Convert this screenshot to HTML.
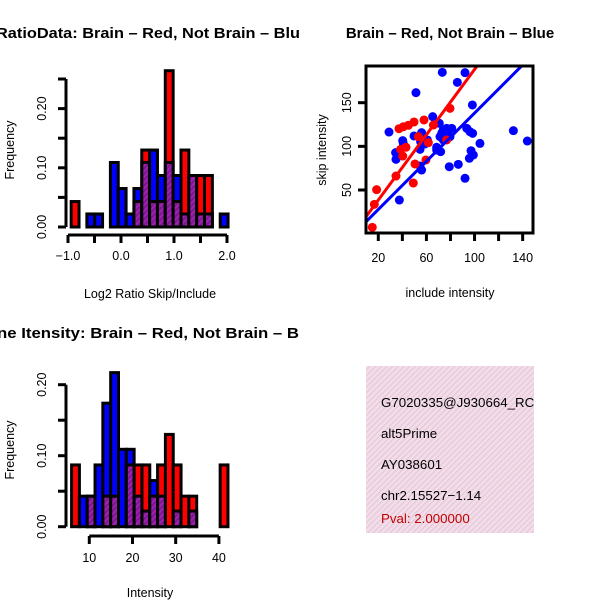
<!DOCTYPE html>
<html><head><meta charset="utf-8"><style>
html,body{margin:0;padding:0;background:#fff;}
svg{display:block;font-family:"Liberation Sans",sans-serif;}
</style></head><body>
<svg id="s" width="600" height="600" viewBox="0 0 600 600">
<defs>
<pattern id="purp" width="4" height="4" patternUnits="userSpaceOnUse" patternTransform="rotate(45)">
<rect width="4" height="4" fill="#a020b0"/><rect width="2" height="4" fill="#7a1890"/></pattern>
<pattern id="pink" width="4" height="4" patternUnits="userSpaceOnUse" patternTransform="rotate(45)">
<rect width="4" height="4" fill="#f8daf0"/><rect width="1.3" height="4" fill="#dcd0cc"/></pattern>
<clipPath id="scClip"><rect x="366" y="66" width="167" height="167"/></clipPath>
</defs>
<text x="-4" y="38" font-size="15" font-weight="bold" textLength="304" lengthAdjust="spacingAndGlyphs">RatioData: Brain – Red, Not Brain – Blu</text>
<text x="-3" y="338" font-size="15" font-weight="bold" textLength="302" lengthAdjust="spacingAndGlyphs">ne Itensity: Brain – Red, Not Brain – B</text>
<text x="450" y="38" font-size="15" font-weight="bold" text-anchor="middle">Brain – Red, Not Brain – Blue</text>
<g id="h1"></g>
<g id="h2"></g>
<g id="sc"></g>
<g>
<rect x="366" y="366" width="168" height="167" fill="url(#pink)"/>
<svg x="366" y="366" width="168" height="167" overflow="hidden">
<text x="15" y="41" font-size="13.3">G7020335@J930664_RC</text>
<text x="15" y="72" font-size="13.3">alt5Prime</text>
<text x="15" y="103" font-size="13.3">AY038601</text>
<text x="15" y="134" font-size="13.3">chr2.15527−1.14</text>
<text x="15" y="157" font-size="13.3" fill="#c00000">Pval: 2.000000</text>
</svg></g>
</svg>
<script>
const NS="http://www.w3.org/2000/svg";
// ratio histogram data
const ratioBinStart=-0.94, ratioBinWidth=0.148;
const ratioRed=[0.043,0,0,0,0,0,0,0,0.043,0.13,0.043,0.043,0.264,0.043,0.13,0.087,0.087,0.087,0,0];
const ratioBlue=[0,0,0.022,0.022,0,0.109,0.065,0.022,0.065,0.109,0.13,0.087,0.109,0.087,0.022,0.087,0.022,0.022,0,0.022];
const ratioXTicks=[-1.0,-0.5,0,0.5,1.0,1.5,2.0];
const ratioXLabels=["−1.0","0.0","1.0","2.0"];
const ratioYTicks=[0,0.05,0.10,0.15,0.20,0.25];
const ratioYLabels=["0.00","0.10","0.20"];
// intensity histogram data
const intBinStart=5.9, intBinWidth=1.81;
const intRed=[0.087,0,0.043,0,0.043,0.043,0,0.087,0.087,0.087,0.043,0.087,0.13,0.087,0.043,0.043,0,0,0,0.087];
const intBlue=[0,0.043,0.043,0.087,0.174,0.217,0.109,0.109,0.043,0.022,0.065,0.043,0,0.022,0,0.022,0,0,0,0];
const intXTicks=[10,20,30,40];
const intYTicks=[0,0.05,0.10,0.15,0.20];
const intYLabels=["0.00","0.10","0.20"];
// scatter data
const blueX=[73.2,92.1,85.7,51.3,98.2,65.2,28.9,40.3,40.8,34.4,34.7,49.7,56.0,55.2,58.8,54.7,60.8,70.7,74.0,76.8,81.0,71.3,74.0,79.6,68.5,71.8,93.5,96.2,98.4,104.5,132.3,143.9,97.1,99.0,95.7,86.5,79.0,56.0,54.7,92.1,37.5,68.5,76.8,72.7];
const blueY=[184.8,184.4,173.3,161.5,147.4,134.0,116.4,106.5,103.4,92.8,85.1,111.9,115.7,105.4,102.7,96.6,107.3,126.4,118.7,120.6,120.6,111.1,107.3,111.1,95.8,93.9,120.6,116.8,114.9,103.4,118.0,106.1,95.0,90.1,86.3,79.4,76.7,72.9,77.5,63.4,38.5,98.9,116.8,114.9];
const redX=[15.0,16.7,18.6,34.7,49.1,40.3,38.6,43.0,37.2,40.8,45.0,49.7,58.0,65.8,79.6,61.6,50.5,59.6,76.8,53.3];
const redY=[7.2,33.6,50.4,66.0,58.0,88.9,96.6,98.9,120.2,122.5,124.1,127.9,130.2,124.4,143.5,104.2,79.8,84.4,107.3,111.1];
const redFit=[1.1,1.87];   // intercept, slope
const blueFit=[0.2,1.379];
const scXTicks=[20,40,60,80,100,120,140];
const scXLabels=[20,60,100,140];
const scYTicks=[50,100,150];

function mk(tag,attrs,parent){const e=document.createElementNS(NS,tag);for(const k in attrs)e.setAttribute(k,attrs[k]);parent.appendChild(e);return e;}

function hist(g,red,blue,start,w,sx,sy,y0,name){
  for(let i=0;i<red.length;i++){
    const r=red[i],b=blue[i];const mx=Math.max(r,b),mn=Math.min(r,b);
    if(mx<=0)continue;
    const x0=sx(start+i*w),x1=sx(start+(i+1)*w);
    const col=r===b?"url(#purp)":(r>b?"#ff0000":"#0000ff");
    const e=mk("rect",{x:x0,y:sy(mx),width:x1-x0,height:y0-sy(mx),fill:col,stroke:"#000","stroke-width":3},g);
    
    
    if(mn>0){
      const p=mk("rect",{x:x0,y:sy(mn),width:x1-x0,height:y0-sy(mn),fill:"url(#purp)",stroke:"#000","stroke-width":3},g);
      
      
    }
  }
}
function yaxis(g,ticks,labels,sy,x,name,labelX,labelY){
  mk("line",{x1:x,x2:x,y1:sy(ticks[0]),y2:sy(ticks[ticks.length-1]),stroke:"#000","stroke-width":3},g);
  ticks.forEach(t=>mk("line",{x1:x-8,x2:x,y1:sy(t),y2:sy(t),stroke:"#000","stroke-width":3},g));
  labels.forEach(l=>{const v=parseFloat(l);const t=mk("text",{x:0,y:0,"font-size":12.5,"text-anchor":"middle",transform:`translate(${x-20},${sy(v)}) rotate(-90)`},g);t.textContent=l;
    });
  const t=mk("text",{x:0,y:0,"font-size":12.5,"text-anchor":"middle",transform:`translate(${labelX},${labelY}) rotate(-90)`},g);t.textContent="Frequency";
  
}
// ratio hist
(function(){
  const g=document.getElementById("h1");
  const sx=v=>121+(v)*53, sy=v=>227-v*592, y0=227;
  hist(g,ratioRed,ratioBlue,ratioBinStart,ratioBinWidth,sx,sy,y0,"ratio");
  mk("line",{x1:sx(-1),x2:sx(2),y1:235,y2:235,stroke:"#000","stroke-width":3},g);
  ratioXTicks.forEach(t=>mk("line",{x1:sx(t),x2:sx(t),y1:235,y2:243,stroke:"#000","stroke-width":3},g));
  ratioXLabels.forEach(l=>{const v=parseFloat(l.replace("−","-"));const t=mk("text",{x:sx(v),y:260,"font-size":12.5,"text-anchor":"middle"},g);t.textContent=l;
    });
  const t=mk("text",{x:150,y:298,"font-size":12.5,"text-anchor":"middle"},g);t.textContent="Log2 Ratio Skip/Include";
  
  yaxis(g,ratioYTicks,ratioYLabels,sy,66,"ratio",14,150);
})();
// intensity hist
(function(){
  const g=document.getElementById("h2");
  const sx=v=>89.3+(v-10)*4.32, sy=v=>526.7-v*710, y0=526.7;
  hist(g,intRed,intBlue,intBinStart,intBinWidth,sx,sy,y0,"intensity");
  mk("line",{x1:sx(10),x2:sx(40),y1:536,y2:536,stroke:"#000","stroke-width":3},g);
  intXTicks.forEach(v=>{mk("line",{x1:sx(v),x2:sx(v),y1:536,y2:544,stroke:"#000","stroke-width":3},g);
    const t=mk("text",{x:sx(v),y:562,"font-size":12.5,"text-anchor":"middle"},g);t.textContent=v;
    });
  const t=mk("text",{x:150,y:597,"font-size":12.5,"text-anchor":"middle"},g);t.textContent="Intensity";
  
  yaxis(g,intYTicks,intYLabels,sy,66,"intensity",14,450);
})();
// scatter
(function(){
  const g=document.getElementById("sc");
  const sx=v=>378.3+(v-20)*1.203, sy=v=>190-(v-50)*0.873;
  const pg=mk("g",{"clip-path":"url(#scClip)"},g);
  for(let i=0;i<blueX.length;i++){const c=mk("circle",{cx:sx(blueX[i]),cy:sy(blueY[i]),r:4.5,fill:"#0000ff"},pg);
    }
  for(let i=0;i<redX.length;i++){const c=mk("circle",{cx:sx(redX[i]),cy:sy(redY[i]),r:4.5,fill:"#ff0000"},pg);
    }
  [[blueFit,"#0000ff","blue-fit-line"],[redFit,"#ff0000","red-fit-line"]].forEach(([f,c,n])=>{
    const l=mk("line",{x1:sx(0),y1:sy(f[0]),x2:sx(200),y2:sy(f[0]+f[1]*200),stroke:c,"stroke-width":3},pg);
    });
  mk("rect",{x:366,y:66,width:167,height:167,fill:"none",stroke:"#000","stroke-width":3},g);
  scXTicks.forEach(v=>mk("line",{x1:sx(v),x2:sx(v),y1:233,y2:241,stroke:"#000","stroke-width":3},g));
  scXLabels.forEach(v=>{const t=mk("text",{x:sx(v),y:262,"font-size":12.5,"text-anchor":"middle"},g);t.textContent=v;
    });
  scYTicks.forEach(v=>{mk("line",{x1:358,x2:366,y1:sy(v),y2:sy(v),stroke:"#000","stroke-width":3},g);
    const t=mk("text",{x:0,y:0,"font-size":12.5,"text-anchor":"middle",transform:`translate(351,${sy(v)}) rotate(-90)`},g);t.textContent=v;
    });
  let t=mk("text",{x:450,y:297,"font-size":12.5,"text-anchor":"middle"},g);t.textContent="include intensity";
  
  t=mk("text",{x:0,y:0,"font-size":12.5,"text-anchor":"middle",transform:"translate(326,150) rotate(-90)"},g);t.textContent="skip intensity";
  
})();
</script>
</body></html>
